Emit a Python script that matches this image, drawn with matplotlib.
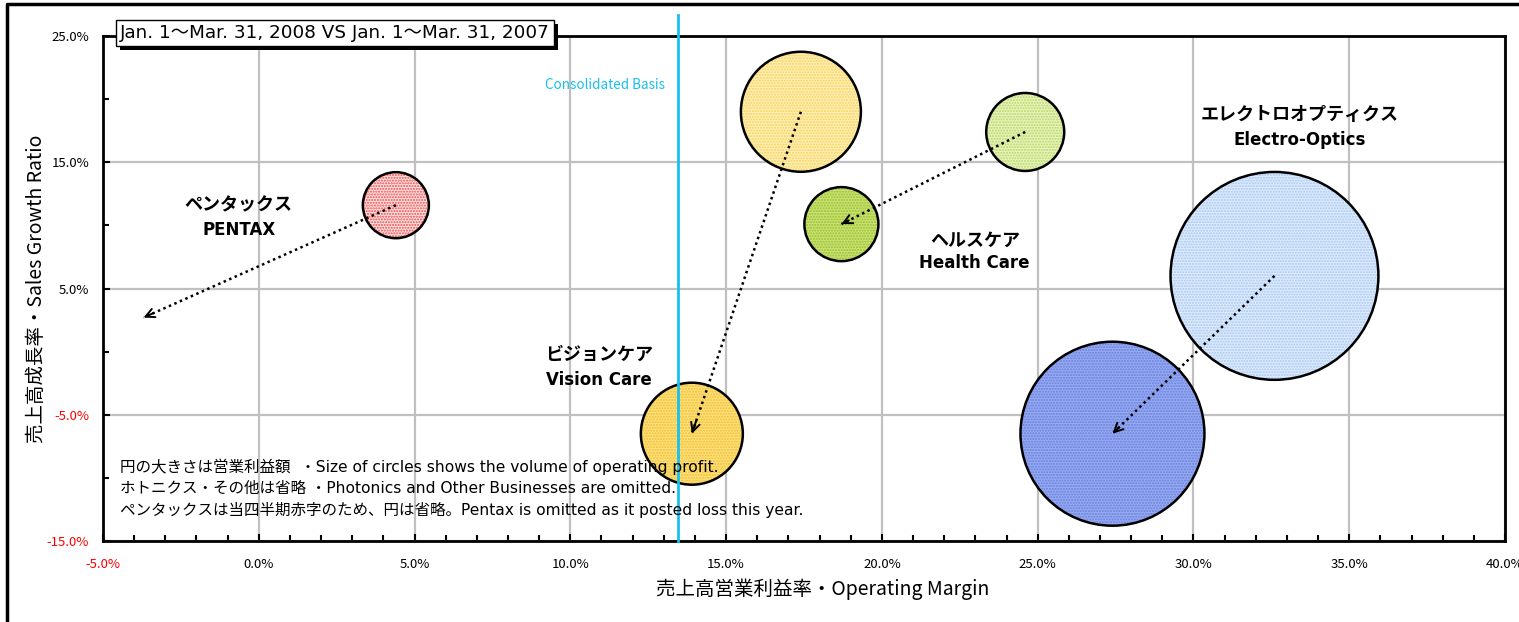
import matplotlib
matplotlib.use('Agg')
import matplotlib.pyplot as plt
import matplotlib.patheffects as pe
from matplotlib.lines import Line2D
from matplotlib.ticker import MultipleLocator, FuncFormatter

plt.rcParams['font.family'] = ['Noto Sans CJK JP', 'DejaVu Sans']
plt.rcParams['hatch.linewidth'] = 1.0
WIDE = ['DejaVu Sans', 'Noto Sans CJK JP']

#----------------------------------------
# segment data (2007 Q1 -> 2008 Q1)
segments_jp = ['ペンタックス', 'ビジョンケア', 'ヘルスケア', 'エレクトロオプティクス']
segments_en = ['PENTAX', 'Vision Care', 'Health Care', 'Electro-Optics']

margin_2007 = [4.4, 17.4, 24.6, 32.6]
growth_2007 = [11.6, 19.0, 17.4, 6.0]
margin_2008 = [-3.7, 13.9, 18.7, 27.4]
growth_2008 = [2.7, -6.5, 10.1, -6.5]

# relative operating profit (bubble area); pentax 2008 is a loss -> no circle
profit_2007 = [10.9, 36.0, 15.2, 108.0]
profit_2008 = [0.0, 26.0, 13.7, 84.6]

consolidated_margin = 13.45

x_ticks = [-5, 0, 5, 10, 15, 20, 25, 30, 35, 40]
y_ticks = [-15, -5, 5, 15, 25]

#----------------------------------------
fill_2007 = ['#fde2e2', '#fef0bc', '#e8f3c0', '#deebfb']
dots_2007 = ['#f04848', '#f8d050', '#b8d860', '#a8c8f4']
fill_2008 = ['#ffffff', '#fde07e', '#cbe274', '#96abf0']
dots_2008 = ['#ffffff', '#f0c030', '#98c030', '#6a80e0']

fig = plt.figure(figsize=(15.19, 6.22), dpi=100)
ax = fig.add_axes([0.0678, 0.1302, 0.9230, 0.8119])
ax.set_xlim(-5, 40)
ax.set_ylim(-15, 25)

ax.xaxis.set_minor_locator(MultipleLocator(1))
ax.yaxis.set_minor_locator(MultipleLocator(5))
ax.set_xticks(x_ticks)
ax.set_yticks(y_ticks)
fmt = FuncFormatter(lambda v, p: '%.1f%%' % v)
ax.xaxis.set_major_formatter(fmt)
ax.yaxis.set_major_formatter(fmt)
ax.tick_params(which='both', direction='in', width=1.5, labelsize=9.5)
ax.tick_params(which='major', length=5)
ax.tick_params(which='minor', length=4)
ax.tick_params(axis='x', pad=12)
ax.tick_params(axis='y', pad=10)
for lab, v in zip(ax.get_xticklabels(), x_ticks):
    lab.set_color('red' if v < 0 else 'black')
for lab, v in zip(ax.get_yticklabels(), y_ticks):
    lab.set_color('red' if v < 0 else 'black')

ax.grid(True, which='major', color='#c0c0c0', linewidth=1.6)
ax.set_axisbelow(True)
for sp in ax.spines.values():
    sp.set_linewidth(2.0)

# bubbles: area in points^2 from relative profit
k = 207.4
for i in range(len(segments_en)):
    for xs, ys, pr, fc, dc in [(margin_2007, growth_2007, profit_2007, fill_2007, dots_2007),
                               (margin_2008, growth_2008, profit_2008, fill_2008, dots_2008)]:
        if pr[i] <= 0:
            continue
        ax.scatter(xs[i], ys[i], s=k * pr[i], facecolor=fc[i], edgecolor=dc[i],
                   hatch='......', linewidth=0, zorder=3)
        ax.scatter(xs[i], ys[i], s=k * pr[i], facecolor='none', edgecolor='black',
                   linewidth=1.8, zorder=4)

# movement arrows: dotted shaft + open solid head
for i in range(len(segments_en)):
    x0, y0 = margin_2007[i], growth_2007[i]
    x1, y1 = margin_2008[i], growth_2008[i]
    ax.plot([x0, x1], [y0, y1], color='black', lw=1.8, linestyle=(0, (1, 1.4)), zorder=5)
    ax.annotate('', xy=(x1, y1), xytext=(x1 - 0.04 * (x1 - x0), y1 - 0.04 * (y1 - y0)),
                arrowprops=dict(arrowstyle='->', lw=1.4, color='black',
                                mutation_scale=16, shrinkA=0, shrinkB=0),
                zorder=5)

# segment labels
label_pos = [(-0.64, 11.63, 9.65), (10.93, -0.24, -2.22), (22.98, 8.86, 7.04), (33.4, 18.75, 16.77)]
for (lx, ly_jp, ly_en), jp, en in zip(label_pos, segments_jp, segments_en):
    ax.text(lx, ly_jp, jp, ha='center', va='center', fontsize=13,
            fontweight='bold', zorder=6)
    ax.text(lx, ly_en, en, ha='center', va='center', fontsize=12,
            fontweight='bold', family='DejaVu Sans', zorder=6)

# consolidated margin line
ax.axvline(consolidated_margin, ymin=0, ymax=1.042, color='#16c0f0', lw=2,
           clip_on=False, zorder=5)
ax.text(consolidated_margin - 0.4, 21.1, 'Consolidated Basis', color='#16c0f0',
        fontsize=9.7, ha='right', va='center')

# notes
ax.text(-4.45, -8.5,
        '円の大きさは営業利益額  ・Size of circles shows the volume of operating profit.\n'
        'ホトニクス・その他は省略 ・Photonics and Other Businesses are omitted.\n'
        'ペンタックスは当四半期赤字のため、円は省略。Pentax is omitted as it posted loss this year.',
        fontsize=11.2, family=WIDE, va='top', ha='left', linespacing=1.45, zorder=6)

ax.set_xlabel('売上高営業利益率・Operating Margin', fontsize=14)
ax.set_ylabel('売上高成長率・Sales Growth Ratio', fontsize=14)
ax.xaxis.set_label_coords(0.513, -0.075)
ax.yaxis.set_label_coords(-0.040, 0.5)

# title box with shadow
t = fig.text(0.0790, 0.9475, 'Jan. 1〜Mar. 31, 2008 VS Jan. 1〜Mar. 31, 2007',
             fontsize=13.2, family=WIDE, ha='left', va='center',
             bbox=dict(boxstyle='square,pad=0.22', facecolor='white', edgecolor='black', lw=1))
t.get_bbox_patch().set_path_effects([
    pe.SimplePatchShadow(offset=(3, -3), shadow_rgbFace='black', alpha=1.0),
    pe.Normal()])

# outer frame (top and left edges visible)
fig.add_artist(Line2D([7 / 1519, 7 / 1519, 1.0], [0.0, 1 - 4 / 622, 1 - 4 / 622],
                      transform=fig.transFigure, color='black', lw=2.5))

plt.savefig('out.png', dpi=100)
